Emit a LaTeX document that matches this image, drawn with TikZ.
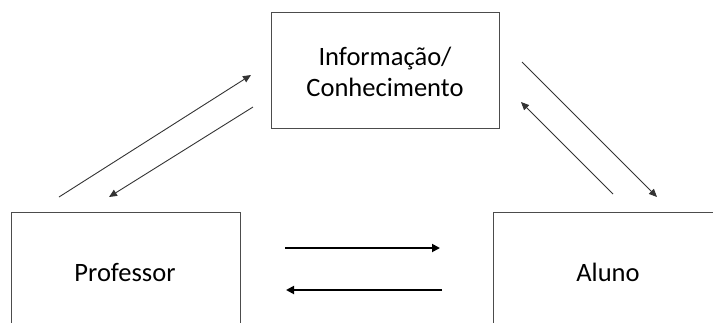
\documentclass[tikz,border=0pt]{standalone}
\usepackage{fontspec}
\setmainfont{Carlito}
\usetikzlibrary{arrows.meta}
\begin{document}
\begin{tikzpicture}[x=1pt,y=-1pt,
  boxline/.style={draw=black!70, line width=1pt},
  lbl/.style={font=\fontsize{26.5}{31}\selectfont, align=center, text=black},
  thinarr/.style={draw=black!80, line width=0.9pt, -{Triangle[length=8pt,width=7pt]}},
  thickarr/.style={draw=black, line width=1.8pt, -{Triangle[length=8pt,width=8pt]}}]
\useasboundingbox (0,0) rectangle (713,322);
% top box
\draw[boxline] (271,12) rectangle (499,128);
\node[lbl] (info) at (385,72) {Informação/\\Conhecimento};
% Professor box (bottom cut off)
\draw[boxline] (11,330) -- (11,212) -- (240,212) -- (240,330);
\node[lbl] (prof) at (125,273) {Professor};
% Aluno box (right cut off)
\draw[boxline] (493,330) -- (493,212) -- (720,212);
\node[lbl] (aluno) at (608,272) {Aluno};
% connector endpoints
\coordinate (a1s) at (59,197);  \coordinate (a1e) at (251,75);
\coordinate (a2s) at (253,107); \coordinate (a2e) at (109,197);
\coordinate (a3s) at (522,62);  \coordinate (a3e) at (657,197);
\coordinate (a4s) at (613,194); \coordinate (a4e) at (521,102);
\coordinate (a5s) at (285,248); \coordinate (a5e) at (440,248);
\coordinate (a6s) at (442,290); \coordinate (a6e) at (286,290);
\draw[thinarr] (a1s) -- (a1e);
\draw[thinarr] (a2s) -- (a2e);
\draw[thinarr] (a3s) -- (a3e);
\draw[thinarr] (a4s) -- (a4e);
\draw[thickarr] (a5s) -- (a5e);
\draw[thickarr] (a6s) -- (a6e);
\end{tikzpicture}
\end{document}
